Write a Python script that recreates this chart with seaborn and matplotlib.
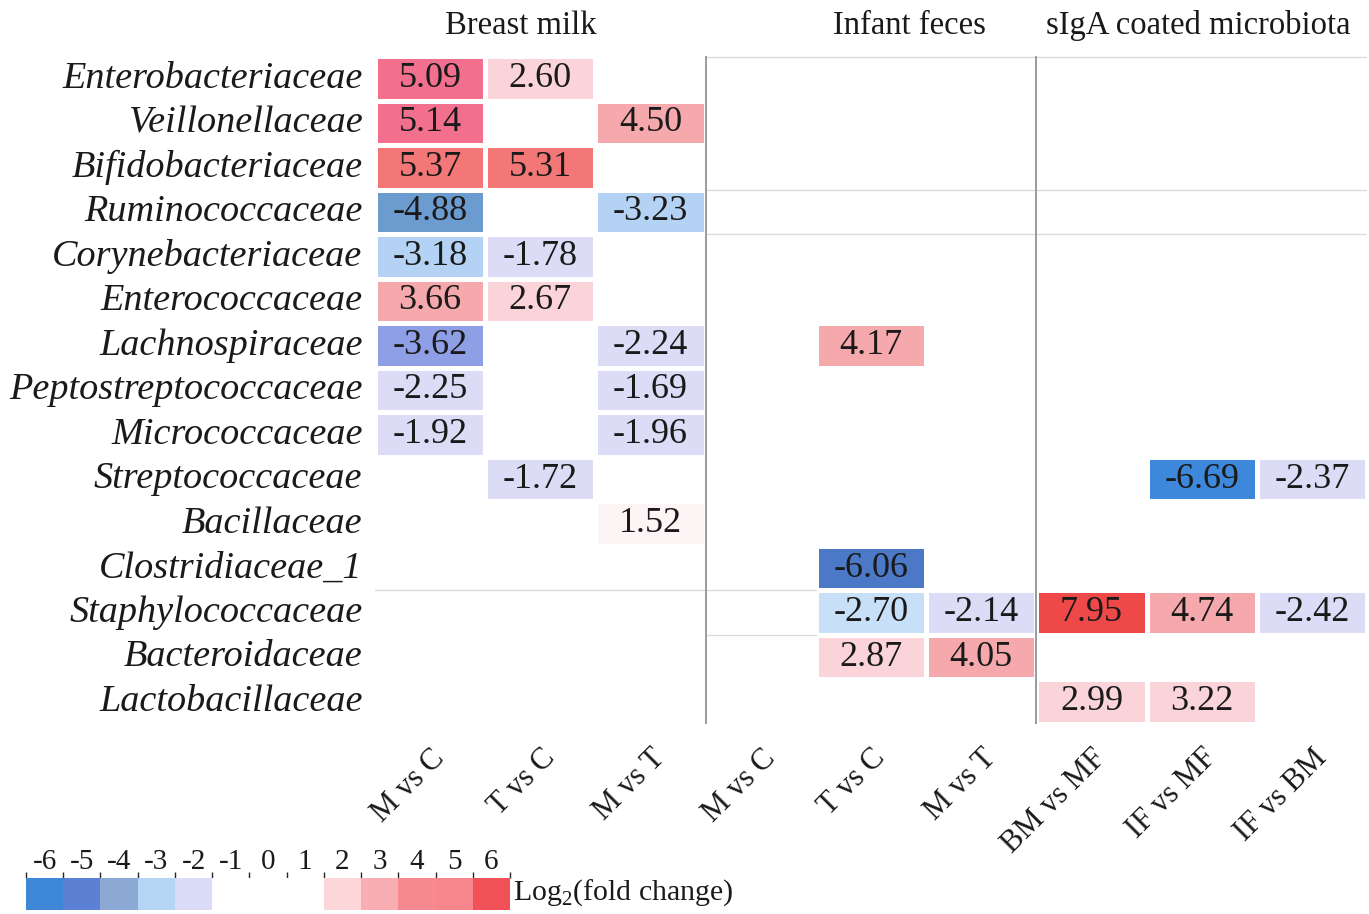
import numpy as np
import pandas as pd
import matplotlib
matplotlib.use("Agg")
import matplotlib.pyplot as plt
from matplotlib.colors import ListedColormap, BoundaryNorm
from matplotlib.cm import ScalarMappable
import seaborn as sns

# ---- data -------------------------------------------------------------
families = [
    "Enterobacteriaceae", "Veillonellaceae", "Bifidobacteriaceae",
    "Ruminococcaceae", "Corynebacteriaceae", "Enterococcaceae",
    "Lachnospiraceae", "Peptostreptococcaceae", "Micrococcaceae",
    "Streptococcaceae", "Bacillaceae", "Clostridiaceae_1",
    "Staphylococcaceae", "Bacteroidaceae", "Lactobacillaceae",
]
comparisons = ["M vs C", "T vs C", "M vs T",
               "M vs C", "T vs C", "M vs T",
               "BM vs MF", "IF vs MF", "IF vs BM"]
groups = ["Breast milk", "Infant feces", "sIgA coated microbiota"]

nan = np.nan
# log2 fold change per family; columns: M vs C, T vs C, M vs T
breast_milk = [
    [5.09, 2.60, nan],
    [5.14, nan, 4.50],
    [5.37, 5.31, nan],
    [-4.88, nan, -3.23],
    [-3.18, -1.78, nan],
    [3.66, 2.67, nan],
    [-3.62, nan, -2.24],
    [-2.25, nan, -1.69],
    [-1.92, nan, -1.96],
    [nan, -1.72, nan],
    [nan, nan, 1.52],
    [nan, nan, nan],
    [nan, nan, nan],
    [nan, nan, nan],
    [nan, nan, nan],
]
# columns: M vs C, T vs C, M vs T
infant_feces = [
    [nan, nan, nan],
    [nan, nan, nan],
    [nan, nan, nan],
    [nan, nan, nan],
    [nan, nan, nan],
    [nan, nan, nan],
    [nan, 4.17, nan],
    [nan, nan, nan],
    [nan, nan, nan],
    [nan, nan, nan],
    [nan, nan, nan],
    [nan, -6.06, nan],
    [nan, -2.70, -2.14],
    [nan, 2.87, 4.05],
    [nan, nan, nan],
]
# columns: BM vs MF, IF vs MF, IF vs BM
siga_coated = [
    [nan, nan, nan],
    [nan, nan, nan],
    [nan, nan, nan],
    [nan, nan, nan],
    [nan, nan, nan],
    [nan, nan, nan],
    [nan, nan, nan],
    [nan, nan, nan],
    [nan, nan, nan],
    [nan, -6.69, -2.37],
    [nan, nan, nan],
    [nan, nan, nan],
    [7.95, 4.74, -2.42],
    [nan, nan, nan],
    [2.99, 3.22, nan],
]
legend_ticks = [-6, -5, -4, -3, -2, -1, 0, 1, 2, 3, 4, 5, 6]

# ---- colour scales ----------------------------------------------------
cell_bounds = [-7.0, -6.5, -5.5, -4.5, -3.4, -2.9, -2.5, -1.0,
               1.0, 2.0, 3.3, 5.0, 5.2, 6.0, 8.5]
cell_colors = ["#3d88db", "#4b79c8", "#6c9bcf", "#8e9fe6", "#b4d3f4",
               "#c7dff7", "#dcdcf7", "#ffffff", "#fdf4f5", "#fbd4d9",
               "#f6a9ac", "#f26f8e", "#f37777", "#ee4848"]
cell_cmap = ListedColormap(cell_colors)
cell_norm = BoundaryNorm(cell_bounds, cell_cmap.N)

legend_colors = ["#3f87d7", "#5c80d4", "#8ca9d6", "#b5d5f5", "#dadbf6",
                 "#ffffff", "#ffffff", "#ffffff",
                 "#fdd6da", "#f9aeb3", "#f78a90", "#f6868c", "#f15258"]
legend_cmap = ListedColormap(legend_colors)
legend_norm = BoundaryNorm(np.arange(-6.5, 7.0, 1.0), legend_cmap.N)

# ---- figure -----------------------------------------------------------
sns.set_theme(style="white")
plt.rcParams["font.family"] = ["Liberation Serif", "DejaVu Serif"]
plt.rcParams["mathtext.fontset"] = "custom"
plt.rcParams["mathtext.rm"] = "Liberation Serif"

values = np.hstack([np.array(breast_milk), np.array(infant_feces),
                    np.array(siga_coated)])
df = pd.DataFrame(values, index=families, columns=range(len(comparisons)))

W, H = 1369, 914
fig = plt.figure(figsize=(W / 100, H / 100), dpi=100)
ax = fig.add_axes([375 / W, 1 - 724 / H, 992 / W, 668 / H])

sns.heatmap(df, ax=ax, cmap=cell_cmap, norm=cell_norm, annot=True,
            fmt=".2f", cbar=False, linewidths=2.2, linecolor="white",
            annot_kws={"fontsize": 26, "color": "#1a1a1a"})

ax.set_xlabel("")
ax.set_ylabel("")
ax.tick_params(axis="both", length=0)
ax.set_yticklabels(families, rotation=0, fontsize=27.5, style="italic",
                   color="#1a1a1a")
ax.tick_params(axis="y", pad=9)
ax.set_xticklabels(comparisons, rotation=45, ha="right",
                   rotation_mode="anchor", fontsize=22, color="#1a1a1a")
ax.tick_params(axis="x", pad=14)

# group separators
for x in (3, 6):
    ax.axvline(x, color="#9a9a9a", lw=1.4, zorder=5)
faint = dict(color="#dcdcdc", lw=1.0, zorder=4)
ax.plot([3, 9], [0.02, 0.02], **faint)
ax.plot([3, 9], [3, 3], **faint)
ax.plot([3, 9], [4, 4], **faint)
ax.plot([0, 4], [12, 12], **faint)
ax.plot([3, 4], [13, 13], **faint)

# group headers
header_x = [1.32, 4.85, 7.47]
for gx, name in zip(header_x, groups):
    ax.text(gx, -0.68, name, ha="center", va="center", fontsize=23.5,
            color="#1a1a1a", clip_on=False)

# discrete legend bar
cax = fig.add_axes([26 / W, 1 - 910 / H, 484 / W, 32 / H])
cb = fig.colorbar(ScalarMappable(norm=legend_norm, cmap=legend_cmap),
                  cax=cax, orientation="horizontal", ticks=legend_ticks)
cb.outline.set_visible(False)
cax.xaxis.set_ticks_position("top")
cax.tick_params(length=0, labelsize=21, pad=2, labelcolor="#1a1a1a")
cax.set_xticklabels([str(t) for t in legend_ticks])
fig.text(513 / W, 1 - 893 / H, r"Log$_\mathregular{2}$(fold change)",
         ha="left", va="center", fontsize=21.5, color="#1a1a1a")

fig.savefig("out.png", dpi=100, facecolor="white")
